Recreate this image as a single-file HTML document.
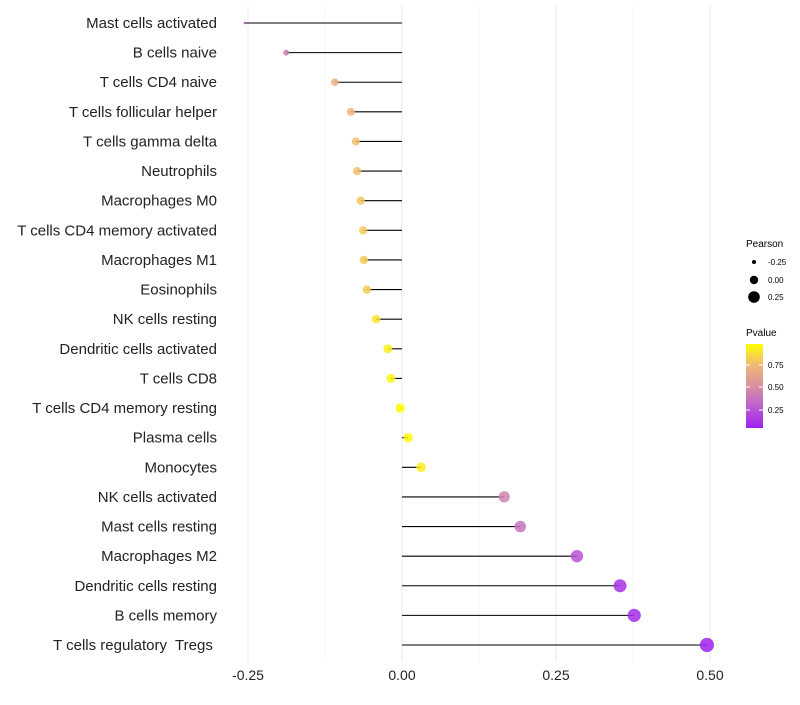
<!DOCTYPE html>
<html><head><meta charset="utf-8"><style>body{margin:0;background:#fff}svg{font-family:"Liberation Sans",sans-serif}text{white-space:pre}</style></head>
<body>
<svg id="chart" width="800" height="700" xmlns="http://www.w3.org/2000/svg">
<defs><linearGradient id="pg" x1="0" y1="1" x2="0" y2="0">
<stop offset="0" stop-color="#a020f0"/><stop offset="0.3" stop-color="#c068c8"/><stop offset="0.5" stop-color="#d890a0"/><stop offset="0.75" stop-color="#f0b878"/><stop offset="1" stop-color="#ffff00"/></linearGradient></defs>
<g id="grid"></g><g id="marks"></g><g id="labels"></g>
<g font-size="9">
<text x="746" y="247" font-size="10">Pearson</text>
<circle cx="754" cy="262" r="2" fill="#000"/><text x="768" y="265" font-size="8">-0.25</text>
<circle cx="754" cy="280" r="4.2" fill="#000"/><text x="768" y="283" font-size="8">0.00</text>
<circle cx="754" cy="297" r="5.8" fill="#000"/><text x="768" y="300" font-size="8">0.25</text>
<text x="746" y="336" font-size="10">Pvalue</text>
<rect x="746" y="344" width="17" height="84" fill="url(#pg)"/>
<line x1="746" x2="750" y1="365" y2="365" stroke="#fff"/><line x1="759" x2="763" y1="365" y2="365" stroke="#fff"/>
<line x1="746" x2="750" y1="387" y2="387" stroke="#fff"/><line x1="759" x2="763" y1="387" y2="387" stroke="#fff"/>
<line x1="746" x2="750" y1="410" y2="410" stroke="#fff"/><line x1="759" x2="763" y1="410" y2="410" stroke="#fff"/>
<text x="768" y="368" font-size="8">0.75</text><text x="768" y="390" font-size="8">0.50</text><text x="768" y="413" font-size="8">0.25</text>
</g>
</svg>
<script>
const cells=["Mast cells activated","B cells naive","T cells CD4 naive","T cells follicular helper","T cells gamma delta","Neutrophils","Macrophages M0","T cells CD4 memory activated","Macrophages M1","Eosinophils","NK cells resting","Dendritic cells activated","T cells CD8","T cells CD4 memory resting","Plasma cells","Monocytes","NK cells activated","Mast cells resting","Macrophages M2","Dendritic cells resting","B cells memory","T cells regulatory  Tregs "];
const pearson=[-0.255,-0.188,-0.109,-0.083,-0.075,-0.073,-0.067,-0.063,-0.062,-0.057,-0.042,-0.023,-0.018,-0.003,0.010,0.031,0.166,0.192,0.284,0.354,0.377,0.495];
const pvalue=[0.2,0.42,0.7,0.74,0.77,0.77,0.79,0.8,0.81,0.82,0.88,0.93,0.94,0.98,0.97,0.92,0.45,0.38,0.25,0.12,0.1,0.04];
const ticks=[-0.25,0,0.25,0.5];
const tickLabels=["-0.25","0.00","0.25","0.50"];
const ns="http://www.w3.org/2000/svg";
const x=v=>402+v*616;
const y=i=>23+i*(622/21);
const r=v=>1.3+5.8*Math.sqrt(Math.max(0,(v+0.25)/0.75));
const stops=[[0,[160,32,240]],[0.3,[192,104,200]],[0.5,[216,144,160]],[0.75,[240,184,120]],[1,[255,255,0]]];
function col(p){let t=(p-0.05)/0.93;t=Math.max(0,Math.min(1,t));for(let k=1;k<stops.length;k++){if(t<=stops[k][0]){const a=stops[k-1],b=stops[k],f=(t-a[0])/(b[0]-a[0]);return 'rgb('+a[1].map((c,j)=>Math.round(c+(b[1][j]-c)*f)).join(',')+')';}}return 'rgb(255,255,0)';}
function mk(t,a,p){const e=document.createElementNS(ns,t);for(const k in a)e.setAttribute(k,a[k]);p.appendChild(e);return e;}
const G=document.getElementById('grid'),M=document.getElementById('marks'),L=document.getElementById('labels');
for(let v=-0.25;v<=0.5001;v+=0.125){const g=mk('line',{x1:x(v),x2:x(v),y1:5,y2:662,stroke:Math.abs((v/0.25)%1)<0.01?'#ebebeb':'#f5f5f5'},G);

}
ticks.forEach((t,i)=>{const e=mk('text',{x:x(t),y:680,'text-anchor':'middle','font-size':14,fill:'#222'},L);e.textContent=tickLabels[i];

});
cells.forEach((c,i)=>{
const t=mk('text',{x:217,y:y(i)+5,'text-anchor':'end','font-size':15,fill:'#222'},L);t.textContent=c;


const l=mk('line',{x1:x(0),x2:x(pearson[i]),y1:y(i),y2:y(i),stroke:'#000','stroke-width':1.1},M);


const d=mk('circle',{cx:x(pearson[i]),cy:y(i),r:r(pearson[i]),fill:col(pvalue[i]),'fill-opacity':0.85},M);


});
</script>
</body></html>
